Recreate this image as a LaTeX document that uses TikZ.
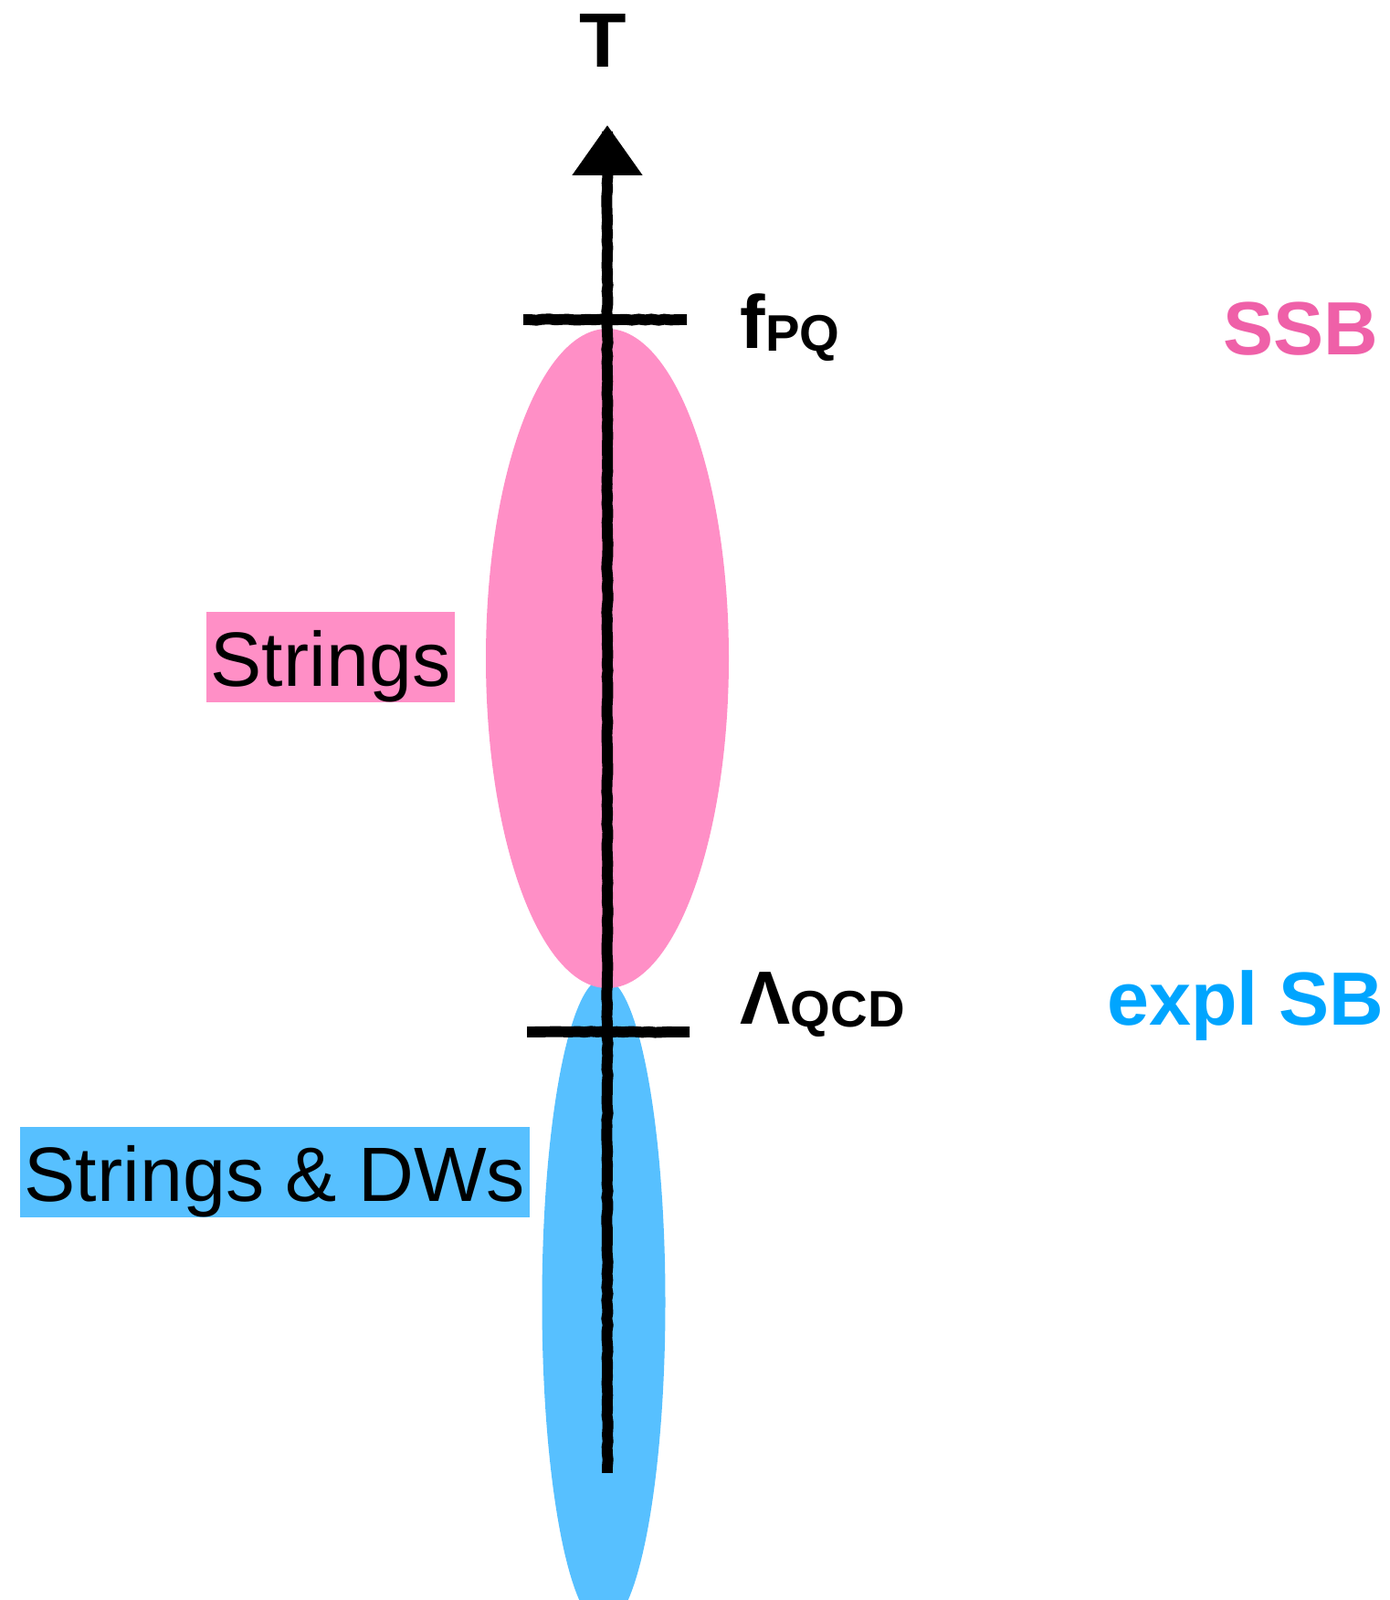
\documentclass[tikz,border=0pt]{standalone}
\usepackage{fontspec}
\setmainfont{Liberation Sans}
\usetikzlibrary{arrows.meta,decorations.pathmorphing}
\definecolor{ssbpink}{RGB}{239,96,168}
\definecolor{sbblue}{RGB}{0,165,255}

\begin{document}
\begin{tikzpicture}[
    crayon/.style={line width=3.4pt, decorate,
      decoration={random steps, segment length=2pt, amplitude=0.2pt,
        pre length=2pt, post length=2pt}},
    scalelabel/.style={anchor=base west, inner sep=0pt, font=\fontsize{23.5}{28}\selectfont\bfseries},
    phaselabel/.style={anchor=base west, inner xsep=0.05cm, inner ysep=0pt,
      text height=0.82cm, text depth=0.17cm, font=\fontsize{24}{28}\selectfont}
  ]
  % Define colors for the two phases
  \definecolor{stringfill}{RGB}{255,143,198}
  \definecolor{wallfill}{RGB}{87,192,255}

  % Position of the axis and of the two scales
  \def\axisx{6.65}
  \def\fpq{14.02}
  \def\lqcd{6.22}

  \useasboundingbox (0,0) rectangle (15.21,17.52);
  \clip (0,0) rectangle (15.21,17.52);

  % Phases (blue below, pink on top of it)
  \fill[wallfill] (6.61,3.26) ellipse (0.675 and 3.55);
  \fill[stringfill] (\axisx,10.31) ellipse (1.33 and 3.61);

  % Temperature axis
  \coordinate (axisbot) at (\axisx,1.39);
  \coordinate (axistop) at (\axisx,16.15);
  \draw[crayon,-{Triangle[width=0.74cm,length=0.55cm]}] (axisbot) -- (axistop);
  \node[anchor=base, inner sep=0pt, font=\fontsize{24}{28}\selectfont\bfseries] (tlabel) at (6.60,16.78) {T};

  % Ticks for the two scales
  \coordinate (fpqleft) at (5.73,\fpq);
  \coordinate (fpqright) at (7.52,\fpq);
  \draw[crayon] (fpqleft) -- (fpqright);
  \coordinate (lqcdleft) at (5.77,\lqcd);
  \coordinate (lqcdright) at (7.55,\lqcd);
  \draw[crayon] (lqcdleft) -- (lqcdright);

  % Scale labels
  \node[scalelabel] (fpqlabel) at (8.10,13.70) {f\raisebox{-0.03cm}{\fontsize{16}{18}\selectfont PQ}};
  \node[scalelabel] (lqcdlabel) at (8.10,6.30) {Λ\raisebox{-0.03cm}{\fontsize{16}{18}\selectfont QCD}};

  % Symmetry breaking labels
  \node[scalelabel, anchor=base east, text=ssbpink] (ssb) at (15.10,13.63) {SSB};
  \node[scalelabel, anchor=base east, text=sbblue] (explsb) at (15.16,6.29) {expl SB};

  % Defects in each phase
  \node[phaselabel, fill=stringfill] (strings) at (2.25,10.00) {Strings};
  \node[phaselabel, fill=wallfill] (stringsdw) at (0.21,4.36) {Strings \& DWs};
\end{tikzpicture}
\end{document}
